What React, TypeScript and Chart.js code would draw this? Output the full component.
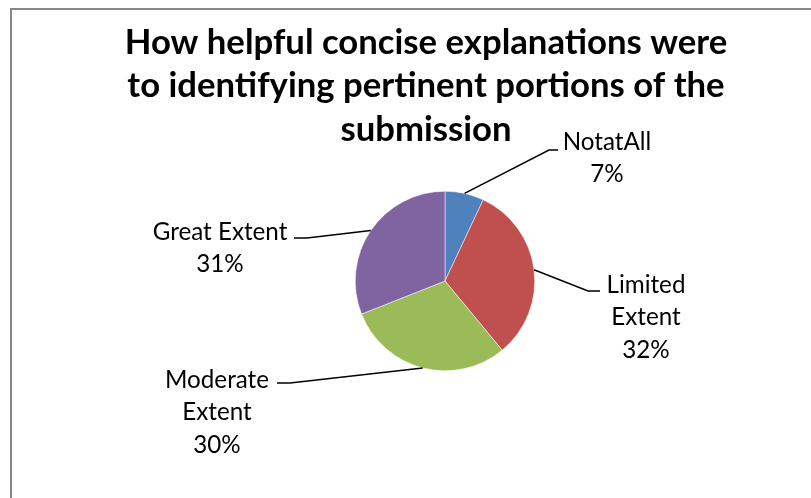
import React, { useEffect, useRef } from "react";
import { Chart, registerables } from "chart.js";

Chart.register(...registerables);

const titleLines = [
  "How helpful concise explanations were",
  "to identifying pertinent portions of the",
  "submission",
];
const categories = ["NotatAll", "Limited Extent", "Moderate Extent", "Great Extent"];
const values = [7, 32, 30, 31];
const labelLines = [["NotatAll", "7%"], ["Limited", "Extent", "32%"], ["Moderate", "Extent", "30%"], ["Great Extent", "31%"]];
const colors = ["#4F81BD", "#C0504D", "#9BBB59", "#8064A2"];

// label layout: elbow point (x,y), horizontal stub end x, text center x, first line center y
const labelLayout = [
  { ex: 549, ey: 150, sx: 558, tx: 607, ty: 142 },
  { ex: 588, ey: 291, sx: 600, tx: 646, ty: 285 },
  { ex: 290, ey: 383, sx: 277, tx: 217, ty: 380 },
  { ex: 307, ey: 238, sx: 294, tx: 220, ty: 232 },
];

const FONT = "Lato, 'Open Sans', 'DejaVu Sans', sans-serif";

const decorPlugin = {
  id: "decor",
  beforeDraw(chart: any) {
    const ctx = chart.ctx;
    ctx.save();
    ctx.fillStyle = "#ffffff";
    ctx.fillRect(0, 0, chart.width, chart.height);
    ctx.strokeStyle = "#878787";
    ctx.lineWidth = 2;
    ctx.beginPath();
    ctx.moveTo(11, chart.height + 2);
    ctx.lineTo(11, 9);
    ctx.lineTo(chart.width + 2, 9);
    ctx.stroke();
    ctx.restore();
  },
  afterDraw(chart: any) {
    const ctx = chart.ctx;
    ctx.save();
    // title
    ctx.fillStyle = "#000000";
    ctx.textAlign = "center";
    ctx.textBaseline = "middle";
    ctx.font = `bold 31px ${FONT}`;
    const w = ctx.measureText(titleLines[0]).width;
    const size = 31 * (603 / w);
    ctx.font = `bold ${size.toFixed(1)}px ${FONT}`;
    const titleY = [43, 86, 130];
    titleLines.forEach((t, i) => ctx.fillText(t, 426, titleY[i]));

    // labels
    ctx.font = `20px ${FONT}`;
    const lw = ctx.measureText("Great Extent").width;
    const lsize = 20 * (135 / lw);
    ctx.font = `${lsize.toFixed(1)}px ${FONT}`;
    const meta = chart.getDatasetMeta(0);
    meta.data.forEach((arc: any, i: number) => {
      const p = arc.getProps(["x", "y", "startAngle", "endAngle", "outerRadius"], true);
      const mid = (p.startAngle + p.endAngle) / 2;
      const r = p.outerRadius;
      const ax = p.x + Math.cos(mid) * r;
      const ay = p.y + Math.sin(mid) * r;
      const L = labelLayout[i];
      ctx.strokeStyle = "#000000";
      ctx.lineWidth = 1.5;
      ctx.beginPath();
      ctx.moveTo(ax, ay);
      ctx.lineTo(L.ex, L.ey);
      ctx.lineTo(L.sx, L.ey);
      ctx.stroke();
      ctx.fillStyle = "#000000";
      labelLines[i].forEach((t, j) => ctx.fillText(t, L.tx, L.ty + j * 32.5));
    });
    ctx.restore();
  },
};

export default function App() {
  const ref = useRef<HTMLCanvasElement>(null);
  useEffect(() => {
    if (!ref.current) return;
    const chart = new Chart(ref.current, {
      type: "pie",
      data: {
        labels: categories,
        datasets: [
          {
            data: values,
            backgroundColor: colors,
            borderColor: "#ffffff",
            borderWidth: 0.5,
          },
        ],
      },
      options: {
        responsive: false,
        animation: false,
        layout: { padding: { left: 355, right: 811 - 535, top: 191, bottom: 498 - 371 } },
        plugins: {
          legend: { display: false },
          title: { display: false },
          tooltip: { enabled: false },
        },
      },
      plugins: [decorPlugin],
    });
    return () => chart.destroy();
  }, []);
  return (
    <div style={{ position: "absolute", left: 0, top: 0, width: 811, height: 498 }}>
      <canvas ref={ref} width={811} height={498} style={{ width: 811, height: 498 }} />
    </div>
  );
}
